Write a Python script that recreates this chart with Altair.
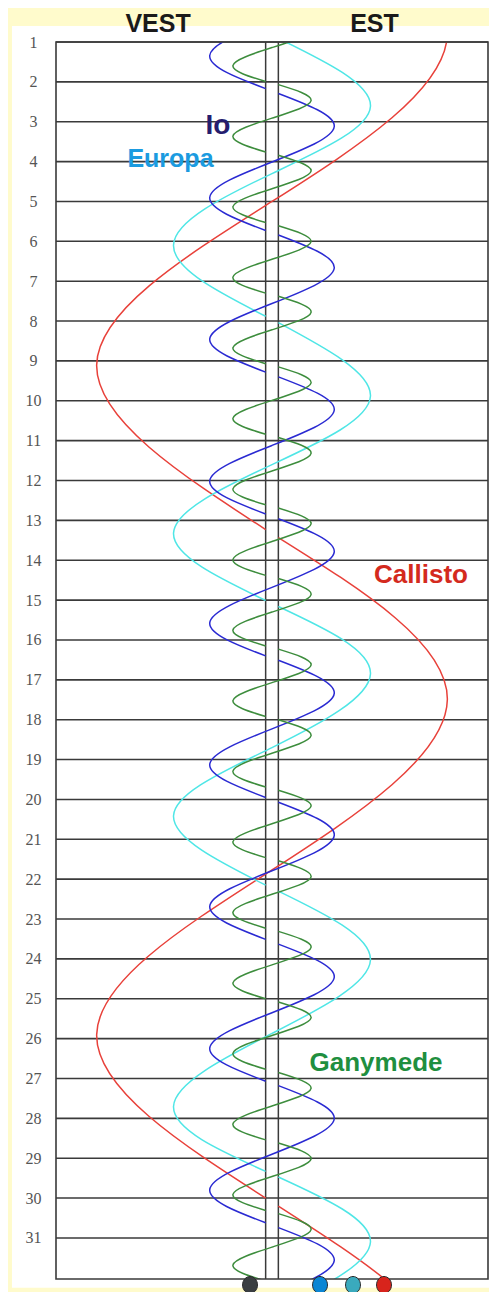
import altair as alt
import pandas as pd

# ---------------- data ----------------
# rows of the table: days of the month
days = list(range(1, 32))

# positions in Jupiter radii (negative = VEST / west, positive = EST / east)
# every curve is split where the moon passes behind Jupiter (gap in the disk)

# green curve (label "Ganymede")
ganymede_days = [
    [0.30, 0.70, 1.14, 1.59, 1.99],
    [2.07, 2.47, 2.91, 3.36, 3.76],
    [3.84, 4.24, 4.68, 5.13, 5.53],
    [5.61, 6.01, 6.45, 6.90, 7.30],
    [7.38, 7.78, 8.22, 8.67, 9.07],
    [9.15, 9.55, 9.99, 10.44, 10.84],
    [10.92, 11.32, 11.76, 12.21, 12.61],
    [12.69, 13.09, 13.53, 13.98, 14.38],
    [14.46, 14.86, 15.30, 15.75, 16.15],
    [16.23, 16.63, 17.07, 17.52, 17.92],
    [18.00, 18.40, 18.84, 19.29, 19.69],
    [19.77, 20.17, 20.61, 21.06, 21.46],
    [21.54, 21.94, 22.38, 22.83, 23.23],
    [23.31, 23.71, 24.15, 24.60, 25.00],
    [25.08, 25.48, 25.92, 26.37, 26.77],
    [26.85, 27.25, 27.69, 28.14, 28.54],
    [28.62, 29.02, 29.46, 29.91, 30.31],
    [30.39, 30.79, 31.23, 31.68, 32.08],
]
ganymede_pos = [
    [1.0, 6.15, 0.0, -6.15, -1.0],
    [1.0, 6.15, 0.0, -6.15, -1.0],
    [1.0, 6.15, 0.0, -6.15, -1.0],
    [1.0, 6.15, 0.0, -6.15, -1.0],
    [1.0, 6.15, 0.0, -6.15, -1.0],
    [1.0, 6.15, 0.0, -6.15, -1.0],
    [1.0, 6.15, 0.0, -6.15, -1.0],
    [1.0, 6.15, 0.0, -6.15, -1.0],
    [1.0, 6.15, 0.0, -6.15, -1.0],
    [1.0, 6.15, 0.0, -6.15, -1.0],
    [1.0, 6.15, 0.0, -6.15, -1.0],
    [1.0, 6.15, 0.0, -6.15, -1.0],
    [1.0, 6.15, 0.0, -6.15, -1.0],
    [1.0, 6.15, 0.0, -6.15, -1.0],
    [1.0, 6.15, 0.0, -6.15, -1.0],
    [1.0, 6.15, 0.0, -6.15, -1.0],
    [1.0, 6.15, 0.0, -6.15, -1.0],
    [1.0, 6.15, 0.0, -6.15, -1.0],
]

# blue curve (label "Io")
io_days = [
    [0.45, 1.34, 2.17],
    [2.29, 3.12, 4.01, 4.90, 5.73],
    [5.84, 6.67, 7.56, 8.45, 9.28],
    [9.40, 10.23, 11.12, 12.01, 12.84],
    [12.96, 13.79, 14.68, 15.57, 16.40],
    [16.51, 17.34, 18.23, 19.12, 19.95],
    [20.07, 20.90, 21.79, 22.68, 23.51],
    [23.63, 24.46, 25.35, 26.24, 27.07],
    [27.18, 28.01, 28.90, 29.79, 30.62],
    [30.74, 31.57, 32.46],
]
io_pos = [
    [0.0, -9.8, -1.0],
    [1.0, 9.8, 0.0, -9.8, -1.0],
    [1.0, 9.8, 0.0, -9.8, -1.0],
    [1.0, 9.8, 0.0, -9.8, -1.0],
    [1.0, 9.8, 0.0, -9.8, -1.0],
    [1.0, 9.8, 0.0, -9.8, -1.0],
    [1.0, 9.8, 0.0, -9.8, -1.0],
    [1.0, 9.8, 0.0, -9.8, -1.0],
    [1.0, 9.8, 0.0, -9.8, -1.0],
    [1.0, 9.8, 0.0],
]

# cyan curve (label "Europa")
europa_days = [
    [0.91, 2.61, 4.30, 6.09, 7.88],
    [8.04, 9.88, 11.60, 13.32, 15.01],
    [15.16, 16.85, 18.70, 20.41, 22.15],
    [22.30, 24.03, 25.87, 27.70, 29.33],
    [29.47, 31.10, 32.85],
]
europa_pos = [
    [1.0, 15.5, 0.0, -15.5, -1.0],
    [1.0, 15.5, 0.0, -15.5, -1.0],
    [1.0, 15.5, 0.0, -15.5, -1.0],
    [1.0, 15.5, 0.0, -15.5, -1.0],
    [1.0, 15.5, 0.0],
]

# red curve (label "Callisto")
callisto_days = [
    [-3.30, 0.80, 5.00, 9.10, 13.23],
    [13.43, 17.50, 21.77, 25.90, 30.00],
    [30.20, 34.30, 38.40],
]
callisto_pos = [
    [1.0, 27.6, 0.0, -27.6, -1.0],
    [1.0, 27.6, 0.0, -27.6, -1.0],
    [1.0, 27.6, 0.0],
]

moon_names = ["Callisto", "Europa", "Io", "Ganymede"]
moon_colors = ["#e8413a", "#4fe6e6", "#2a2ad2", "#3d8d3d"]
moon_label_colors = ["#d42a1e", "#1b9be0", "#251d6e", "#1f8f3f"]
moon_label_x = [23.45, -15.98, -8.50, 16.37]
moon_label_day = [14.37, 3.94, 3.11, 26.61]
moon_label_size = [26, 25, 28, 26]

# Jupiter's disk edges
disk_edges = [-1.0, 1.0]

# positions at the end of the month (coloured dots under the table)
dot_pos = [-3.46, 7.56, 12.75, 17.63]
dot_day = [32.18, 32.18, 32.18, 32.18]
dot_colors = ["#3a3e41", "#0b86d4", "#3aaabd", "#d8241c"]

side_names = ["VEST", "EST"]
side_x = [-17.94, 16.13]
side_day = [0.74, 0.74]   # baseline of the two headings

# plotting limits
x_lim = [-34.0, 34.0]
day_lim = [1.0, 32.03]
panel_x = [-40.93, 34.3]
panel_day = [0.60, 32.25]

# ---------------- tables ----------------
curve_sets = {
    "Callisto": (callisto_days, callisto_pos),
    "Europa": (europa_days, europa_pos),
    "Io": (io_days, io_pos),
    "Ganymede": (ganymede_days, ganymede_pos),
}
rows = []
for name, color in zip(moon_names, moon_colors):
    d_list, p_list = curve_sets[name]
    for s, (dd, pp) in enumerate(zip(d_list, p_list)):
        for i, (d, p) in enumerate(zip(dd, pp)):
            rows.append({"moon": name, "seg": f"{name}-{s}", "i": i,
                         "day": d, "pos": p, "color": color})
curves_df = pd.DataFrame(rows)

labels_df = pd.DataFrame({
    "text": moon_names, "pos": moon_label_x, "day": moon_label_day,
    "color": moon_label_colors, "size": moon_label_size,
})
sides_df = pd.DataFrame({"text": side_names, "pos": side_x, "day": side_day})
days_df = pd.DataFrame({"day": days})
disk_df = pd.DataFrame({"pos": disk_edges})
dots_df = pd.DataFrame({"pos": dot_pos, "day": dot_day, "color": dot_colors})
panel_df = pd.DataFrame({"x": [panel_x[0]], "x2": [panel_x[1]],
                         "day": [panel_day[0]], "day2": [panel_day[1]]})
frame_df = pd.DataFrame({"x": [x_lim[0]], "x2": [x_lim[1]],
                         "day": [day_lim[0]], "day2": [day_lim[1]]})

xs = alt.Scale(domain=x_lim, nice=False, zero=False)
ys = alt.Scale(domain=day_lim, reverse=True, nice=False, zero=False)

LINE = "#3a3a3a"

y_axis = alt.Axis(
    values=days, title=None, ticks=False, domain=False, grid=False,
    labelFont="Liberation Serif", labelFontSize=16, labelColor="#555555",
    labelAlign="center", labelBaseline="middle", labelPadding=23,
    labelOverlap=False, zindex=1,
)


def Y(field="day:Q"):
    return alt.Y(field, scale=ys, axis=y_axis)


def X(field="pos:Q"):
    return alt.X(field, scale=xs, axis=None)


panel = alt.Chart(panel_df).mark_rect(fill="white").encode(
    x=X("x:Q"), x2="x2:Q", y=Y("day:Q"), y2="day2:Q",
)

day_rules = alt.Chart(days_df).mark_rule(color=LINE, strokeWidth=1.6).encode(
    y=Y("day:Q"),
)

disk = alt.Chart(disk_df).mark_rule(color=LINE, strokeWidth=1.5).encode(
    x=X("pos:Q"),
)

curves = alt.Chart(curves_df).mark_line(
    interpolate="natural", clip=True, strokeWidth=1.5
).encode(
    x=X("pos:Q"),
    y=Y("day:Q"),
    detail="seg:N",
    order=alt.Order("i:Q"),
    color=alt.Color("color:N", scale=None),
)

frame = alt.Chart(frame_df).mark_rect(
    fillOpacity=0, stroke=LINE, strokeWidth=1.6
).encode(
    x=X("x:Q"), x2="x2:Q", y=Y("day:Q"), y2="day2:Q",
)

moon_labels = alt.Chart(labels_df).mark_text(
    font="Liberation Sans", fontWeight="bold", align="center", baseline="middle"
).encode(
    x=X("pos:Q"),
    y=Y("day:Q"),
    text="text:N",
    color=alt.Color("color:N", scale=None),
    size=alt.Size("size:Q", scale=None),
)

side_labels = alt.Chart(sides_df).mark_text(
    font="Liberation Sans Narrow, Arial Narrow, Liberation Sans",
    fontWeight="bold", fontSize=25, color="#1a1a1a",
    align="center", baseline="alphabetic"
).encode(
    x=X("pos:Q"),
    y=Y("day:Q"),
    text="text:N",
)

ellipse = "M-0.88,0 A0.88,1 0 1,0 0.88,0 A0.88,1 0 1,0 -0.88,0 Z"
dots = alt.Chart(dots_df).mark_point(
    shape=ellipse, filled=True, size=289, opacity=1,
    stroke="#2a2a2a", strokeWidth=1
).encode(
    x=X("pos:Q"),
    y=Y("day:Q"),
    fill=alt.Fill("color:N", scale=None),
)

chart = alt.layer(
    panel, day_rules, disk, curves, frame, moon_labels, side_labels, dots
).properties(
    width=432, height=1237,
    padding={"left": 48, "top": 34, "right": 1, "bottom": 13},
    autosize=alt.AutoSizeParams(type="none"),
    background="#fffbcc",
).configure_view(stroke=None)

chart.save("out.html", embed_options={"renderer": "svg", "actions": False})
